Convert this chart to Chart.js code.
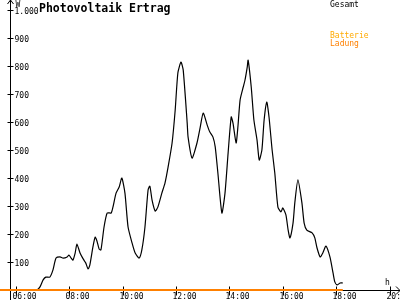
<!DOCTYPE html>
<html>
<head>
<meta charset="utf-8">
<script src="https://cdn.jsdelivr.net/npm/chart.js@4/dist/chart.umd.min.js"></script>
<style>
  html, body { margin: 0; padding: 0; background: #fff; }
  canvas { display: block; }
</style>
</head>
<body>
<canvas id="chart" width="400" height="300"></canvas>
<script>
// Gesamt (W)
const gesamtTimes = [
  '06:40', '06:47', '06:54', '07:01', '07:07', '07:16', '07:23', '07:30', '07:39', '07:46',
  '07:55', '07:59', '08:04', '08:08', '08:13', '08:17', '08:24', '08:31', '08:37', '08:42',
  '08:46', '08:53', '08:58', '09:02', '09:07', '09:11', '09:18', '09:25', '09:34', '09:38',
  '09:45', '09:52', '09:58', '10:05', '10:12', '10:21', '10:28', '10:37', '10:43', '10:50',
  '10:57', '11:01', '11:06', '11:13', '11:19', '11:28', '11:35', '11:42', '11:51', '11:58',
  '12:04', '12:11', '12:16', '12:25', '12:27', '12:36', '12:47', '12:54', '13:01', '13:10',
  '13:16', '13:23', '13:28', '13:34', '13:43', '13:50', '13:57', '14:04', '14:08', '14:15',
  '14:19', '14:24', '14:31', '14:35', '14:40', '14:42', '14:49', '14:55', '15:02', '15:07',
  '15:13', '15:18', '15:24', '15:29', '15:36', '15:42', '15:49', '15:56', '16:00', '16:07',
  '16:12', '16:16', '16:23', '16:27', '16:34', '16:43', '16:48', '16:54', '17:06', '17:12',
  '17:17', '17:24', '17:30', '17:37', '17:46', '17:53', '17:57', '18:02', '18:09', '18:15'
];
const gesamtValues = [
  0, 0, 11, 36, 46, 46, 71, 114, 118, 114,
  118, 125, 114, 107, 132, 164, 132, 111, 96, 75,
  89, 154, 189, 175, 146, 143, 225, 275, 275, 296,
  346, 368, 400, 346, 225, 168, 132, 114, 143, 225,
  357, 371, 321, 282, 296, 346, 382, 439, 525, 643,
  775, 814, 786, 596, 546, 471, 525, 579, 632, 589,
  564, 546, 511, 418, 275, 346, 489, 618, 596, 525,
  582, 679, 725, 750, 796, 821, 725, 607, 536, 464,
  500, 607, 671, 618, 500, 418, 296, 279, 293, 268,
  214, 186, 239, 311, 393, 311, 239, 214, 204, 186,
  150, 118, 132, 157, 118, 61, 29, 18, 25, 25
];

// Batterie Ladung (W)
const batterieTimes = ['05:24', '18:15'];
const batterieValues = [0, 0];

const yTicks = [100, 200, 300, 400, 500, 600, 700, 800, 900, 1000];
const yTickLabels = ['100', '200', '300', '400', '500', '600', '700', '800', '900', '1.000'];
const xTickLabels = ['06:00', '08:00', '10:00', '12:00', '14:00', '16:00', '18:00', '20:00'];

const toHours = (t) => {
  const [h, m] = t.split(':').map(Number);
  return h + m / 60;
};

const smallFont = '8px "DejaVu Sans Mono", monospace';

const axesPlugin = {
  id: 'pvAxes',
  beforeDatasetsDraw(chart) {
    const { ctx, scales: { x, y } } = chart;
    const axisX = Math.round(x.getPixelForValue(toHours('05:47'))) + 0.5;
    const axisY = Math.round(y.getPixelForValue(0)) + 0.5;

    ctx.save();
    ctx.strokeStyle = '#000';
    ctx.lineWidth = 1;
    ctx.beginPath();
    // y axis with arrow
    ctx.moveTo(axisX, 300);
    ctx.lineTo(axisX, 0);
    ctx.moveTo(axisX - 3, 4);
    ctx.lineTo(axisX, 0);
    ctx.lineTo(axisX + 3, 4);
    // x axis with arrow
    ctx.moveTo(0, axisY);
    ctx.lineTo(400, axisY);
    ctx.moveTo(396, axisY - 4);
    ctx.lineTo(400, axisY);
    ctx.lineTo(396, axisY + 4);
    ctx.stroke();

    ctx.font = smallFont;
    ctx.fillStyle = '#000';

    // y ticks
    ctx.textAlign = 'left';
    ctx.textBaseline = 'middle';
    yTicks.forEach((v, i) => {
      const py = Math.round(y.getPixelForValue(v)) + 0.5;
      ctx.beginPath();
      ctx.moveTo(axisX - 3, py);
      ctx.lineTo(axisX + 3, py);
      ctx.stroke();
      ctx.fillText(yTickLabels[i], axisX + 4, py + 1);
    });
    ctx.textBaseline = 'top';
    ctx.fillText('W', axisX + 5, 1);

    // x ticks
    xTickLabels.forEach((t) => {
      const px = Math.round(x.getPixelForValue(toHours(t))) + 0.5;
      ctx.beginPath();
      ctx.moveTo(px, axisY - 4);
      ctx.lineTo(px, axisY + 5);
      ctx.stroke();
      ctx.fillText(t, px - 4, 293);
    });
    ctx.textBaseline = 'alphabetic';
    ctx.fillText('h', 385, 285);

    // title
    ctx.font = 'bold 11.5px "DejaVu Sans Mono", monospace';
    ctx.fillText('Photovoltaik Ertrag', 39, 12);

    // legend
    ctx.font = smallFont;
    ctx.textBaseline = 'top';
    ctx.fillStyle = '#000';
    ctx.fillText('Gesamt', 330, 1);
    ctx.fillStyle = '#ffaa00';
    ctx.fillText('Batterie', 330, 32);
    ctx.fillStyle = '#ff8000';
    ctx.fillText('Ladung', 330, 40);
    ctx.restore();
  }
};

new Chart(document.getElementById('chart'), {
  type: 'line',
  data: {
    datasets: [
      {
        label: 'Batterie Ladung',
        data: batterieTimes.map((t, i) => ({ x: toHours(t), y: batterieValues[i] })),
        borderColor: '#ff8000',
        borderWidth: 2,
        pointRadius: 0,
        clip: false,
        order: 0
      },
      {
        label: 'Gesamt',
        data: gesamtTimes.map((t, i) => ({ x: toHours(t), y: gesamtValues[i] })),
        borderColor: '#000',
        borderWidth: 1.2,
        pointRadius: 0,
        tension: 0.2,
        clip: false,
        order: 1
      }
    ]
  },
  options: {
    responsive: false,
    animation: false,
    devicePixelRatio: 1,
    layout: { padding: { top: 10, bottom: 10, left: 0, right: 0 } },
    plugins: {
      legend: { display: false },
      tooltip: { enabled: false }
    },
    scales: {
      x: { type: 'linear', min: toHours('05:24'), max: 20.393, display: false },
      y: { min: 0, max: 1000, display: false }
    }
  },
  plugins: [axesPlugin]
});
</script>
</body>
</html>
